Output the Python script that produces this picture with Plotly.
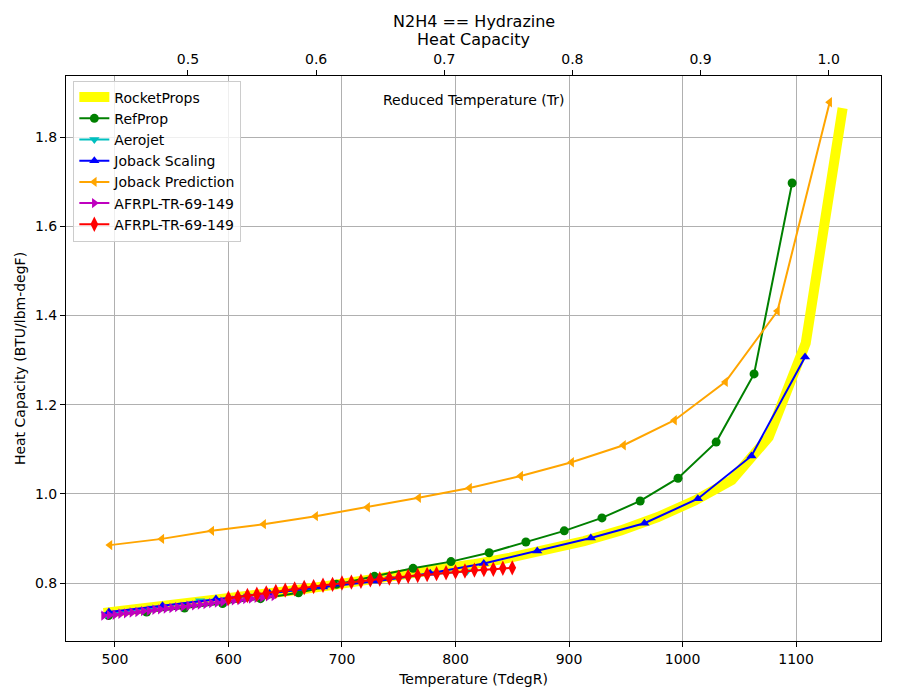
import plotly.graph_objects as go

TC = 1128.7  # critical temperature used for reduced temperature axis (degR)

# RocketProps
t_rp = [490.0, 522.6, 555.1, 587.7, 620.2, 652.8, 685.3, 717.9, 750.4, 783.0, 815.5,
        848.1, 880.6, 913.2, 945.7, 978.3, 1010.8, 1043.4, 1075.9, 1108.5, 1141.0]
cp_rp = [0.733, 0.742, 0.752, 0.762, 0.772, 0.782, 0.793, 0.804, 0.816, 0.828, 0.842,
         0.857, 0.874, 0.894, 0.918, 0.948, 0.985, 1.031, 1.127, 1.338, 1.865]

# RefProp
t_ref = [494.4, 527.9, 561.3, 594.8, 628.2, 661.7, 695.1, 728.6, 762.6, 796.0, 829.6,
         862.0, 895.8, 929.0, 962.7, 996.0, 1029.6, 1063.0, 1096.5]
cp_ref = [0.727, 0.735, 0.744, 0.754, 0.765, 0.778, 0.797, 0.815, 0.833, 0.848, 0.868,
          0.892, 0.917, 0.946, 0.984, 1.035, 1.116, 1.269, 1.697]

# Aerojet
t_aj = [492.0, 533.0, 575.0, 617.0, 658.0, 700.0, 742.0, 783.0, 810.0]
cp_aj = [0.730, 0.744, 0.760, 0.771, 0.783, 0.798, 0.810, 0.821, 0.826]

# Joback Scaling
t_js = [494.7, 541.9, 589.0, 636.2, 683.4, 730.5, 777.7, 824.9, 872.0, 919.2,
        966.4, 1013.5, 1060.7, 1107.9]
cp_js = [0.735, 0.749, 0.764, 0.777, 0.791, 0.804, 0.822, 0.844, 0.872, 0.901,
         0.934, 0.989, 1.085, 1.307]

# Joback Prediction
t_jp = [495.6, 541.3, 585.3, 631.0, 676.8, 722.6, 767.5, 812.4, 857.4, 902.3,
        948.0, 992.9, 1037.8, 1083.6, 1129.6]
cp_jp = [0.885, 0.899, 0.917, 0.932, 0.950, 0.970, 0.991, 1.013, 1.040, 1.071,
         1.109, 1.165, 1.251, 1.410, 1.878]

# AFRPL-TR-69-149 (magenta)
t_af1 = [490, 495, 500, 505, 510, 515, 520, 525, 530, 535, 540, 545, 550, 555, 560, 565,
         570, 575, 580, 585, 590, 595, 600, 605, 610, 615, 620, 625, 630, 635, 640]
cp_af1 = [0.727, 0.728, 0.729, 0.731, 0.732, 0.734, 0.735, 0.737, 0.738, 0.740, 0.741,
          0.743, 0.744, 0.746, 0.747, 0.749, 0.750, 0.752, 0.753, 0.755, 0.756, 0.758,
          0.759, 0.761, 0.762, 0.764, 0.765, 0.767, 0.768, 0.770, 0.771]

# AFRPL-TR-69-149 (red)
t_af2 = [600.0, 608.3, 616.7, 625.0, 633.3, 641.7, 650.0, 658.3, 666.7, 675.0, 683.3,
         691.7, 700.0, 708.3, 716.7, 725.0, 733.3, 741.7, 750.0, 758.3, 766.7, 775.0,
         783.3, 791.7, 800.0, 808.3, 816.7, 825.0, 833.3, 841.7, 850.0]
cp_af2 = [0.766, 0.769, 0.772, 0.775, 0.778, 0.781, 0.784, 0.787, 0.790, 0.792, 0.795,
          0.797, 0.800, 0.802, 0.804, 0.807, 0.809, 0.811, 0.813, 0.815, 0.817, 0.819,
          0.821, 0.823, 0.825, 0.827, 0.829, 0.830, 0.831, 0.833, 0.834]

TITLE_LINES = ["N2H4 == Hydrazine", "Heat Capacity"]
TOP_LABEL = "Reduced Temperature (Tr)"

FONT = "DejaVu Sans, Verdana, sans-serif"

fig = go.Figure()
fig.add_trace(go.Scatter(x=t_rp, y=cp_rp, mode="lines", name="RocketProps",
                         line=dict(color="#ffff00", width=10)))
fig.add_trace(go.Scatter(x=t_ref, y=cp_ref, mode="lines+markers", name="RefProp",
                         line=dict(color="#008000", width=2),
                         marker=dict(symbol="circle", size=9, color="#008000")))
fig.add_trace(go.Scatter(x=t_aj, y=cp_aj, mode="lines+markers", name="Aerojet",
                         line=dict(color="#00bfbf", width=2),
                         marker=dict(symbol="triangle-down", size=9, color="#00bfbf")))
fig.add_trace(go.Scatter(x=t_js, y=cp_js, mode="lines+markers", name="Joback Scaling",
                         line=dict(color="#0000ff", width=2),
                         marker=dict(symbol="triangle-up", size=9, color="#0000ff")))
fig.add_trace(go.Scatter(x=t_jp, y=cp_jp, mode="lines+markers", name="Joback Prediction",
                         line=dict(color="#ffa500", width=2),
                         marker=dict(symbol="triangle-left", size=9, color="#ffa500")))
fig.add_trace(go.Scatter(x=t_af1, y=cp_af1, mode="lines+markers", name="AFRPL-TR-69-149",
                         line=dict(color="#bf00bf", width=2),
                         marker=dict(symbol="triangle-right", size=9, color="#bf00bf")))
fig.add_trace(go.Scatter(x=t_af2, y=cp_af2, mode="lines+markers", name="AFRPL-TR-69-149",
                         line=dict(color="#ff0000", width=2),
                         marker=dict(symbol="diamond-tall", size=11, color="#ff0000")))
# invisible trace to carry the reduced-temperature axis
fig.add_trace(go.Scatter(x=[t / TC for t in t_ref], y=cp_ref, xaxis="x2", mode="markers",
                         marker=dict(opacity=0), showlegend=False, hoverinfo="skip"))

xr = [456.9, 1174.8]
cx = (473.5 - 66) / 815
fig.update_layout(
    width=900, height=700,
    margin=dict(l=66, r=19, t=76, b=59),
    paper_bgcolor="white", plot_bgcolor="white",
    font=dict(family=FONT, size=14, color="black"),
    xaxis=dict(range=xr, tickmode="linear", tick0=500, dtick=100,
               showgrid=True, gridcolor="#b0b0b0", gridwidth=1,
               showline=True, linecolor="black", linewidth=1, mirror=True,
               ticks="outside", ticklen=5, tickcolor="black", zeroline=False,
               title=dict(text="Temperature (TdegR)", font=dict(size=14), standoff=8),
               tickfont=dict(size=14)),
    xaxis2=dict(range=[xr[0] / TC, xr[1] / TC], overlaying="x", side="top", anchor="y",
                tickvals=[0.5, 0.6, 0.7, 0.8, 0.9, 1.0], tickformat=".1f",
                showgrid=False, zeroline=False, showline=False,
                ticks="outside", ticklen=5, tickcolor="black", tickfont=dict(size=14)),
    yaxis=dict(range=[0.670, 1.937], tickvals=[0.8, 1.0, 1.2, 1.4, 1.6, 1.8], tickformat=".1f",
               showgrid=True, gridcolor="#b0b0b0", gridwidth=1,
               showline=True, linecolor="black", linewidth=1, mirror=True,
               ticks="outside", ticklen=5, tickcolor="black", zeroline=False,
               title=dict(text="Heat Capacity (BTU/lbm-degF)", font=dict(size=14), standoff=6),
               tickfont=dict(size=14)),
    legend=dict(x=0.009, y=0.992, xanchor="left", yanchor="top",
                bgcolor="rgba(255,255,255,0.8)", bordercolor="#cccccc", borderwidth=1,
                font=dict(size=14), tracegroupgap=0, itemwidth=30),
    showlegend=True,
    annotations=[
        dict(text=TITLE_LINES[0], x=cx, xref="paper", xanchor="center",
             y=(641 - 21) / 565, yref="paper", yanchor="middle", showarrow=False,
             font=dict(family=FONT, size=16, color="black")),
        dict(text=TITLE_LINES[1], x=cx, xref="paper", xanchor="center",
             y=(641 - 40) / 565, yref="paper", yanchor="middle", showarrow=False,
             font=dict(family=FONT, size=16, color="black")),
        dict(text=TOP_LABEL, x=cx, xref="paper", xanchor="center",
             y=(641 - 100) / 565, yref="paper", yanchor="middle", showarrow=False,
             font=dict(family=FONT, size=14, color="black")),
    ],
)

fig.write_html("out.html")
